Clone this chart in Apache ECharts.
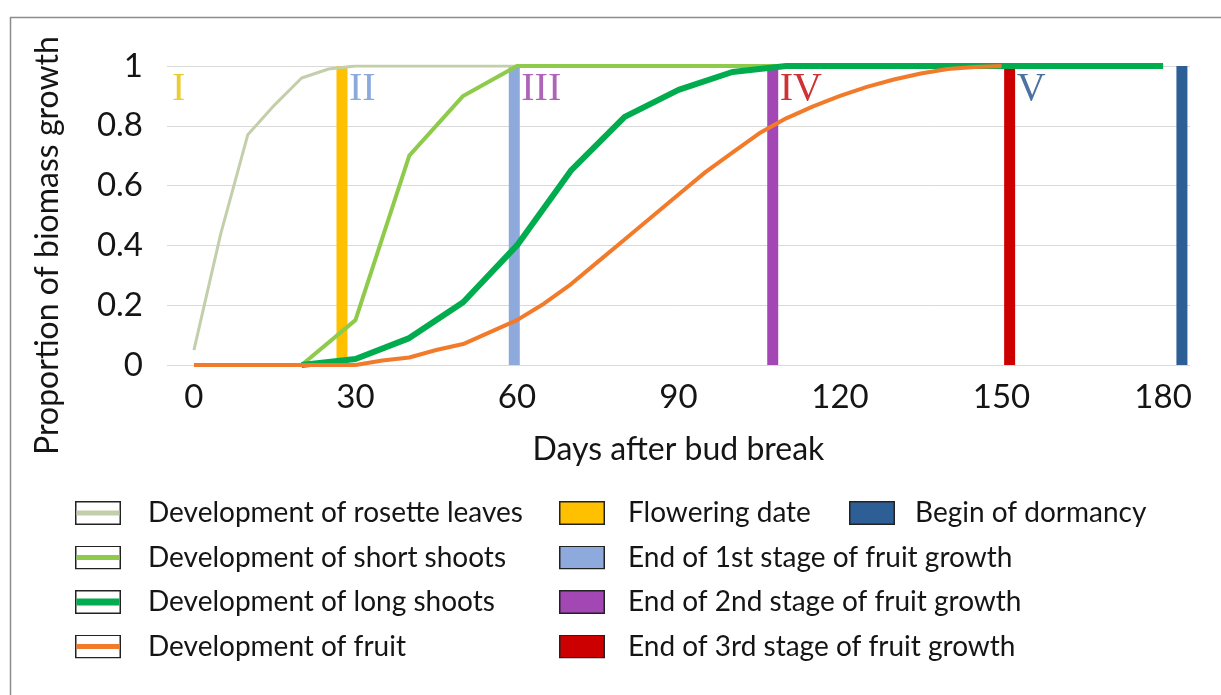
<!DOCTYPE html>
<html>
<head>
<meta charset="utf-8">
<script src="https://cdn.jsdelivr.net/npm/echarts@6/dist/echarts.min.js"></script>
<style>
  html, body { margin: 0; padding: 0; background: #fff; }
  #chart { width: 1221px; height: 695px; }
</style>
</head>
<body>
<div id="chart"></div>
<script>
// Growth curves: days after bud break and proportion of biomass growth reached
const rosetteDays   = [0, 5, 10, 15, 20, 25, 30, 180];
const rosetteValues = [0.05, 0.44, 0.77, 0.87, 0.96, 0.99, 1, 1];

const shortShootDays   = [20, 30, 40, 50, 60, 180];
const shortShootValues = [0, 0.15, 0.70, 0.90, 1, 1];

const longShootDays   = [20, 30, 40, 50, 60, 70, 80, 90, 100, 110, 180];
const longShootValues = [0, 0.02, 0.09, 0.21, 0.40, 0.65, 0.83, 0.92, 0.98, 1, 1];

const fruitDays   = [0, 10, 20, 30, 35, 40, 45, 50, 55, 60, 65, 70, 75, 80, 85, 90, 95,
                     100, 105, 110, 115, 120, 125, 130, 135, 140, 145, 150];
const fruitValues = [0, 0, 0, 0, 0.015, 0.025, 0.05, 0.07, 0.11, 0.15, 0.205, 0.27, 0.345, 0.42, 0.495, 0.57, 0.645,
                     0.71, 0.775, 0.825, 0.865, 0.90, 0.93, 0.955, 0.975, 0.99, 0.997, 1];

const curveNames = [
  'Development of rosette leaves',
  'Development of short shoots',
  'Development of long shoots',
  'Development of fruit'
];

// Phenological stage dates (days after bud break)
const stageNames = [
  'Flowering date',
  'End of 1st stage of fruit growth',
  'End of 2nd stage of fruit growth',
  'End of 3rd stage of fruit growth',
  'Begin of dormancy'
];
const stageDays = [27.5, 59.5, 107.5, 151.5, 183.5];

// Period numerals shown between the stage dates
const periodLabels = ['I', 'II', 'III', 'IV', 'V'];

// Axis ticks
const xTickValues = [0, 30, 60, 90, 120, 150, 180];
const xRange = [-5, 185];

// Styling
const curveColors = ['#C2CFAA', '#8FCB4B', '#00AC4E', '#F27B2B'];
const curveWidths = [3, 4, 6, 4];
const stageColors = ['#FFC000', '#8EA9DB', '#A347B5', '#CC0000', '#2E5E96'];
const periodColors = ['#E6C000', '#6F93D6', '#9A3DA8', '#C00000', '#1F4E8C'];

const FONT = 'Lato, "Open Sans", sans-serif';
const TEXT = '#151515';

const zip = (xs, ys) => xs.map((x, i) => [x, ys[i]]);

// Legend swatches: a 46x24 framed box, followed by transparent space up to the text
function svgIcon(totalWidth, inner) {
  const svg = "<svg xmlns='http://www.w3.org/2000/svg' width='" + totalWidth + "' height='24' viewBox='0 0 " +
              totalWidth + " 24'>" + inner + "</svg>";
  return 'image://data:image/svg+xml;charset=utf-8,' + encodeURIComponent(svg);
}
function lineIcon(totalWidth, color, w) {
  return svgIcon(totalWidth,
    "<rect x='0.75' y='0.75' width='44.5' height='22.5' fill='#ffffff' stroke='#222' stroke-width='1.5'/>" +
    "<line x1='1.5' y1='12' x2='44.5' y2='12' stroke='" + color + "' stroke-width='" + w + "'/>");
}
function boxIcon(totalWidth, color) {
  return svgIcon(totalWidth,
    "<rect x='0.75' y='0.75' width='44.5' height='22.5' fill='" + color + "' stroke='#222' stroke-width='1.5'/>");
}

const series = [];

// Stage date markers: thick vertical lines spanning the full value range
stageNames.forEach((name, i) => {
  series.push({
    name: name,
    type: 'line',
    data: [[stageDays[i], 0], [stageDays[i], 1]],
    symbol: 'none',
    lineStyle: { color: stageColors[i], width: 11, cap: 'butt' },
    itemStyle: { color: stageColors[i] },
    silent: true,
    z: 2
  });
});

// Growth curves
const curveData = [
  zip(rosetteDays, rosetteValues),
  zip(shortShootDays, shortShootValues),
  zip(longShootDays, longShootValues),
  zip(fruitDays, fruitValues)
];
curveNames.forEach((name, i) => {
  series.push({
    name: name,
    type: 'line',
    data: curveData[i],
    symbol: 'none',
    lineStyle: { color: curveColors[i], width: curveWidths[i], join: 'round' },
    itemStyle: { color: curveColors[i] },
    silent: true,
    z: 3
  });
});

// Period numerals: first one at the start of the axis, the rest right of each stage date
const numeralAnchors = [xRange[0]].concat(stageDays.slice(0, 4));
series.push({
  name: 'periods',
  type: 'scatter',
  symbolSize: 0,
  itemStyle: { color: 'rgba(0,0,0,0)' },
  silent: true,
  z: 4,
  data: periodLabels.map((t, i) => ({
    value: [numeralAnchors[i], 1],
    label: {
      show: true,
      formatter: t,
      position: [i === 0 ? 5 : 7, 3],
      color: periodColors[i],
      fontFamily: '"Liberation Serif", "DejaVu Serif", serif',
      fontSize: 40,
      lineHeight: 40
    }
  }))
});

const legendCommon = {
  orient: 'vertical',
  top: 498,
  padding: 0,
  itemHeight: 24,
  itemGap: 14.5,
  selectedMode: false,
  textStyle: { fontFamily: FONT, fontSize: 28, lineHeight: 30, color: TEXT, padding: 0 }
};

const option = {
  animation: false,
  backgroundColor: '#ffffff',
  grid: { left: 167, right: 31, top: 66, bottom: 330, containLabel: false },
  xAxis: {
    type: 'value',
    min: xRange[0],
    max: xRange[1],
    name: 'Days after bud break',
    nameLocation: 'middle',
    nameGap: 69,
    nameTextStyle: { fontFamily: FONT, fontSize: 32, color: TEXT },
    axisLine: { show: false },
    axisTick: { show: false },
    splitLine: { show: false },
    axisLabel: {
      customValues: xTickValues,
      margin: 16,
      fontFamily: FONT,
      fontSize: 33,
      color: TEXT
    }
  },
  yAxis: {
    type: 'value',
    min: 0,
    max: 1,
    interval: 0.2,
    name: 'Proportion of biomass growth',
    nameLocation: 'middle',
    nameRotate: 90,
    nameGap: 103,
    nameTextStyle: { fontFamily: FONT, fontSize: 32, color: TEXT, padding: [0, 60, 0, 0] },
    axisLine: { show: false },
    axisTick: { show: false },
    splitLine: { show: true, lineStyle: { color: '#D9D9D9', width: 1 } },
    axisLabel: { margin: 24, fontFamily: FONT, fontSize: 33, color: TEXT }
  },
  legend: [
    Object.assign({}, legendCommon, {
      left: 75, itemWidth: 68,
      data: curveNames.map((n, i) => ({ name: n, icon: lineIcon(68, curveColors[i], i === 2 ? 7 : 5) }))
    }),
    Object.assign({}, legendCommon, {
      left: 559, itemWidth: 64,
      data: stageNames.slice(0, 4).map((n, i) => ({ name: n, icon: boxIcon(64, stageColors[i]) }))
    }),
    Object.assign({}, legendCommon, {
      left: 849, itemWidth: 61,
      data: [{ name: stageNames[4], icon: boxIcon(61, stageColors[4]) }]
    })
  ],
  graphic: [{
    type: 'rect',
    silent: true,
    z: 0,
    shape: { x: 10.5, y: 17.5, width: 1400, height: 900 },
    style: { fill: 'none', stroke: '#8C8C8C', lineWidth: 1.5 }
  }],
  series: series
};

const chart = echarts.init(document.getElementById('chart'), null, { renderer: 'canvas' });
chart.setOption(option);
</script>
</body>
</html>
